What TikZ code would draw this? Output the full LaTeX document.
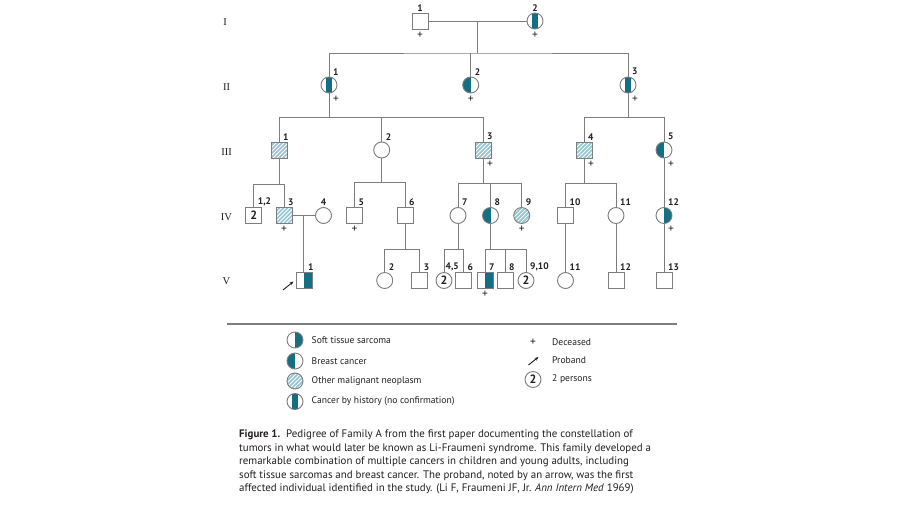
\documentclass[tikz,border=0pt]{standalone}
\usepackage{fontspec}
\usepackage{graphicx}
\setmainfont{PT Sans}
\newfontfamily\romfont{Liberation Serif}
\usetikzlibrary{arrows.meta,calc}
\definecolor{lc}{RGB}{125,125,125}
\definecolor{tl}{RGB}{22,110,130}
\definecolor{hb}{RGB}{150,198,212}
\definecolor{txt}{RGB}{35,31,32}
\tikzset{
 sym/.style={draw=lc, line width=0.9pt, fill=white, inner sep=0pt, minimum size=16pt},
 sq/.style={sym, rectangle},
 ci/.style={sym, circle},
 rhalf/.style={path picture={\fill[tl] (path picture bounding box.north) rectangle (path picture bounding box.south east);}},
 lhalf/.style={path picture={\fill[tl] (path picture bounding box.north west) rectangle (path picture bounding box.south);}},
 mstripe/.style={path picture={\fill[tl] ([xshift=-2.8pt]path picture bounding box.north) rectangle ([xshift=2.8pt]path picture bounding box.south);}},
 hatch/.style={path picture={\fill[hb] (path picture bounding box.south west) rectangle (path picture bounding box.north east);
   \foreach \k in {-22,-18,...,18}{\draw[white,line width=0.75pt] ([xshift=\k pt]path picture bounding box.south west) -- ++(24pt,24pt);}}},
 two/.style={font=\fontsize{12}{12}\selectfont\bfseries, text=txt},
 conn/.style={draw=lc, line width=0.9pt},
 num/.style={font=\fontsize{9.5}{10}\selectfont\bfseries, text=txt, inner sep=0pt},
 pl/.style={font=\fontsize{11.5}{11}\selectfont, text=txt, inner sep=0pt},
 gen/.style={font=\romfont\fontsize{10.5}{10}\selectfont, text=txt, inner sep=0pt},
 leg/.style={font=\fontsize{9.6}{10}\selectfont, text=txt, inner sep=0pt},
 captxt/.style={font=\fontsize{10.9}{13.6}\selectfont, text=txt, inner sep=0pt, align=left},
 proband/.style={draw=txt, line width=0.9pt, -{Stealth[length=4pt,width=3.2pt]}},
}
\newcommand\numA[3]{\node[num,anchor=south west] (n#1) at ([xshift=#3pt,yshift=1.3pt]#1.north) {#2};}
\newcommand\numC[2]{\node[num,anchor=south] (n#1) at ([yshift=1.3pt]#1.north) {#2};}
\newcommand\plR[1]{\node[pl] (p#1) at ([xshift=7pt,yshift=-5.5pt]#1.south) {+};}
\newcommand\plC[1]{\node[pl] (p#1) at ([yshift=-5.5pt]#1.south) {+};}
\begin{document}
\begin{tikzpicture}[x=1pt,y=-1pt]
\useasboundingbox[fill=white] (0,0) rectangle (900,506);
% generation labels
\node[gen] (gI) at (225,22) {I};
\node[gen] (gII) at (226.5,87) {II};
\node[gen] (gIII) at (226.5,152) {III};
\node[gen] (gIV) at (226.5,217) {IV};
\node[gen] (gV) at (226.5,281) {V};
% generation I
\node[sq] (I1) at (420,21) {};
\node[ci,mstripe] (I2) at (535,21) {};
% generation II
\node[ci,mstripe] (II1) at (329,85) {};
\node[ci,lhalf] (II2) at (470.7,85) {};
\node[ci,mstripe] (II3) at (628,85) {};
% generation III
\node[sq,hatch] (III1) at (279,150) {};
\node[ci] (III2) at (381.7,150) {};
\node[sq,hatch] (III3) at (483,150) {};
\node[sq,hatch] (III4) at (584,150) {};
\node[ci,lhalf] (III5) at (664,150) {};
% generation IV
\node[sq,two] (IVot) at (253.7,215.5) {2};
\node[sq,hatch] (IV3) at (284,215.5) {};
\node[ci] (IV4) at (323.5,215.5) {};
\node[sq] (IV5) at (354.5,215.5) {};
\node[sq] (IV6) at (405,215.5) {};
\node[ci] (IV7) at (458,215.5) {};
\node[ci,lhalf] (IV8) at (490.5,215.5) {};
\node[ci,hatch] (IV9) at (521.7,215.5) {};
\node[sq] (IV10) at (565.5,215.5) {};
\node[ci] (IV11) at (616,215.5) {};
\node[ci,rhalf] (IV12) at (664,215.5) {};
% generation V
\node[sq,rhalf] (V1) at (304,280.5) {};
\node[ci] (V2) at (384.7,280.5) {};
\node[sq] (V3) at (419.7,280.5) {};
\node[ci,two] (V45) at (444,280.5) {2};
\node[sq] (V6) at (463.5,280.5) {};
\node[sq,rhalf] (V7) at (485,280.5) {};
\node[sq] (V8) at (505,280.5) {};
\node[ci,two] (V910) at (526,280.5) {2};
\node[ci] (V11) at (565.5,280.5) {};
\node[sq] (V12) at (616,280.5) {};
\node[sq] (V13) at (664,280.5) {};
% connectors
\draw[conn] (I1.east) -- (I2.west);
\coordinate (mI) at ($(I1.east)!0.5!(I2.west)$);
\draw[conn] (mI) -- ++(0,32) coordinate (sII);
\draw[conn] (II1.north) |- (sII) -| (II3.north);
\draw[conn] (II2.north) -- (II2.north |- sII);
\draw[conn] (II1.south) -- ++(0,24) coordinate (sIIIa);
\draw[conn] (III1.north) |- (sIIIa) -| (III3.north);
\draw[conn] (III2.north) -- (III2.north |- sIIIa);
\draw[conn] (II3.south) -- ++(0,24) coordinate (sIIIb);
\draw[conn] (III4.north) |- (sIIIb) -| (III5.north);
\draw[conn] (III1.south) -- ++(0,26) coordinate (sIVa);
\draw[conn] (IVot.north) |- (sIVa) -| (IV3.north);
\draw[conn] (III2.south) -- ++(0,24) coordinate (sIVb);
\draw[conn] (IV5.north) |- (sIVb) -| (IV6.north);
\draw[conn] (III3.south) -- ++(0,25) coordinate (sIVc);
\draw[conn] (IV7.north) |- (sIVc) -| (IV9.north);
\draw[conn] (IV8.north) -- (IV8.north |- sIVc);
\draw[conn] (III4.south) -- ++(0,25) coordinate (sIVd);
\draw[conn] (IV10.north) |- (sIVd) -| (IV11.north);
\draw[conn] (III5.south) -- (IV12.north);
\draw[conn] (IV3.east) -- (IV4.west);
\coordinate (mIV) at ($(IV3.east)!0.5!(IV4.west)$);
\draw[conn] (mIV) -- (mIV |- V1.north);
\draw[conn] (IV6.south) -- ++(0,25) coordinate (sVa);
\draw[conn] (V2.north) |- (sVa) -| (V3.north);
\draw[conn] (IV7.south) -- ++(0,25) coordinate (sVb);
\draw[conn] (V45.north) |- (sVb) -| (V6.north);
\draw[conn] (IV8.south) -- ++(0,25) coordinate (sVc);
\draw[conn] (V7.north) |- (sVc) -| (V910.north);
\draw[conn] (V8.north) -- (V8.north |- sVc);
\draw[conn] (IV10.south) -- (V11.north);
\draw[conn] (IV11.south) -- (V12.north);
\draw[conn] (IV12.south) -- (V13.north);
% proband arrow
\coordinate (pa) at (283,290);
\coordinate (pb) at (293.5,281.5);
\draw[proband] (pa) -- (pb);
% numbers
\numC{I1}{1} \numC{I2}{2}
\numA{II1}{1}{4} \numA{II2}{2}{4} \numA{II3}{3}{4}
\numA{III1}{1}{4} \numA{III2}{2}{4} \numA{III3}{3}{4} \numA{III4}{4}{4} \numA{III5}{5}{4}
\numA{IVot}{1,2}{4} \numA{IV3}{3}{4} \numC{IV4}{4} \numA{IV5}{5}{4} \numA{IV6}{6}{4}
\numA{IV7}{7}{4} \numA{IV8}{8}{4} \numA{IV9}{9}{4} \numA{IV10}{10}{4} \numA{IV11}{11}{4} \numA{IV12}{12}{4}
\numA{V1}{1}{4} \numA{V2}{2}{4} \numA{V3}{3}{4} \numA{V45}{4,5}{1.5} \numA{V6}{6}{4}
\numA{V7}{7}{4} \numA{V8}{8}{4} \numA{V910}{9,10}{4} \numA{V11}{11}{4} \numA{V12}{12}{4} \numA{V13}{13}{4}
% deceased
\plC{I1} \plC{I2}
\plR{II1} \plC{II2} \plR{II3}
\plR{III3} \plR{III4} \plR{III5}
\plC{IV3} \plC{IV5} \plC{IV9} \plR{IV12}
\plC{V7}
% legend
\draw[draw=lc, line width=1.4pt] (227,324) -- (677,324);
\node[ci,rhalf] (L1) at (295,340) {};
\node[ci,lhalf] (L2) at (295,361) {};
\node[ci,hatch] (L3) at (295,381) {};
\node[ci,mstripe] (L4) at (295,401.5) {};
\node[leg,anchor=west] (L1t) at (311.5,340) {Soft tissue sarcoma};
\node[leg,anchor=west] (L2t) at (311.5,361) {Breast cancer};
\node[leg,anchor=west] (L3t) at (311.5,381) {Other malignant neoplasm};
\node[leg,anchor=west] (L4t) at (311.5,401.5) {Cancer by history (no confirmation)};
\node[pl] (L5) at (533,342.5) {+};
\node[leg,anchor=west] (L5t) at (552,342.5) {Deceased};
\coordinate (La) at (528.5,365);
\coordinate (Lb) at (538.5,357);
\draw[proband] (La) -- (Lb);
\node[leg,anchor=west] (L6t) at (552,360.5) {Proband};
\node[ci,two] (L7) at (533,379.5) {2};
\node[leg,anchor=west] (L7t) at (552,379.5) {2 persons};
% caption
\node[captxt,anchor=north west] (capt) at (239,429.5) {\textbf{Figure 1.}\ \ Pedigree of Family A from the first paper documenting the constellation of\\
tumors in what would later be known as Li-Fraumeni syndrome. This family developed a\\
remarkable combination of multiple cancers in children and young adults, including\\
soft tissue sarcomas and breast cancer. The proband, noted by an arrow, was the first\\
affected individual identified in the study. (Li F, Fraumeni JF, Jr. \textit{Ann Intern Med} 1969)};
\end{tikzpicture}
\end{document}
